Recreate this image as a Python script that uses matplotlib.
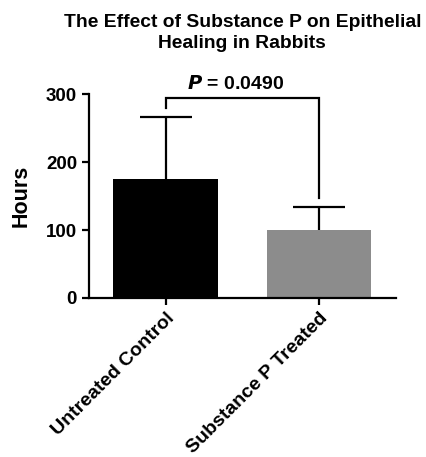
import matplotlib.pyplot as plt

plt.rcParams['font.family'] = ['Liberation Sans', 'DejaVu Sans']
plt.rcParams['font.weight'] = 'bold'

# data
groups = ["Untreated Control", "Substance P Treated"]
means = [175, 100]
errors = [91, 34]
colors = ["#000000", "#8c8c8c"]
p_label = "= 0.0490"

fig = plt.figure(figsize=(4.27, 4.57), dpi=100)
ax = fig.add_axes([0.208, 0.348, 0.719, 0.446])

x = list(range(len(groups)))
ax.bar(x, means, width=0.68, color=colors, zorder=2)
eb = ax.errorbar(x, means, yerr=[[0] * len(errors), errors], fmt='none',
                 ecolor='black', elinewidth=1.6, capsize=18.5, capthick=1.6,
                 zorder=1)
# one-sided bars: hide the caps sitting on the bar tops
for cap in eb[1]:
    if list(cap.get_ydata()) == means:
        cap.set_visible(False)

ax.set_xlim(-0.5, 1.5)
ax.set_ylim(0, 300)
ax.set_yticks([0, 100, 200, 300])
ax.set_xticks(x)
ax.set_xticklabels(groups, rotation=45, ha='right', rotation_mode='anchor',
                   fontsize=14, fontweight='bold')
ax.tick_params(axis='y', labelsize=13.5, width=1.6, length=5)
ax.tick_params(axis='x', width=1.6, length=5)
for lab in ax.get_yticklabels():
    lab.set_fontweight('bold')

ax.spines['top'].set_visible(False)
ax.spines['right'].set_visible(False)
ax.spines['left'].set_linewidth(1.6)
ax.spines['bottom'].set_linewidth(1.6)

ax.set_ylabel("Hours", fontsize=15.5, fontweight='bold', labelpad=10)
ax.set_title("The Effect of Substance P on Epithelial\nHealing in Rabbits",
             fontsize=13.9, fontweight='bold', pad=33, linespacing=1.3)

# significance bracket
ax.plot([0, 0, 1, 1], [279, 295, 295, 147], color='black', lw=1.6,
        clip_on=False, solid_joinstyle='miter')
ax.text(0.455, 301, r"$\bf{\it{P}}$ " + p_label, ha='center', va='bottom',
        fontsize=14, fontweight='bold')

plt.savefig("out.png", dpi=100)
